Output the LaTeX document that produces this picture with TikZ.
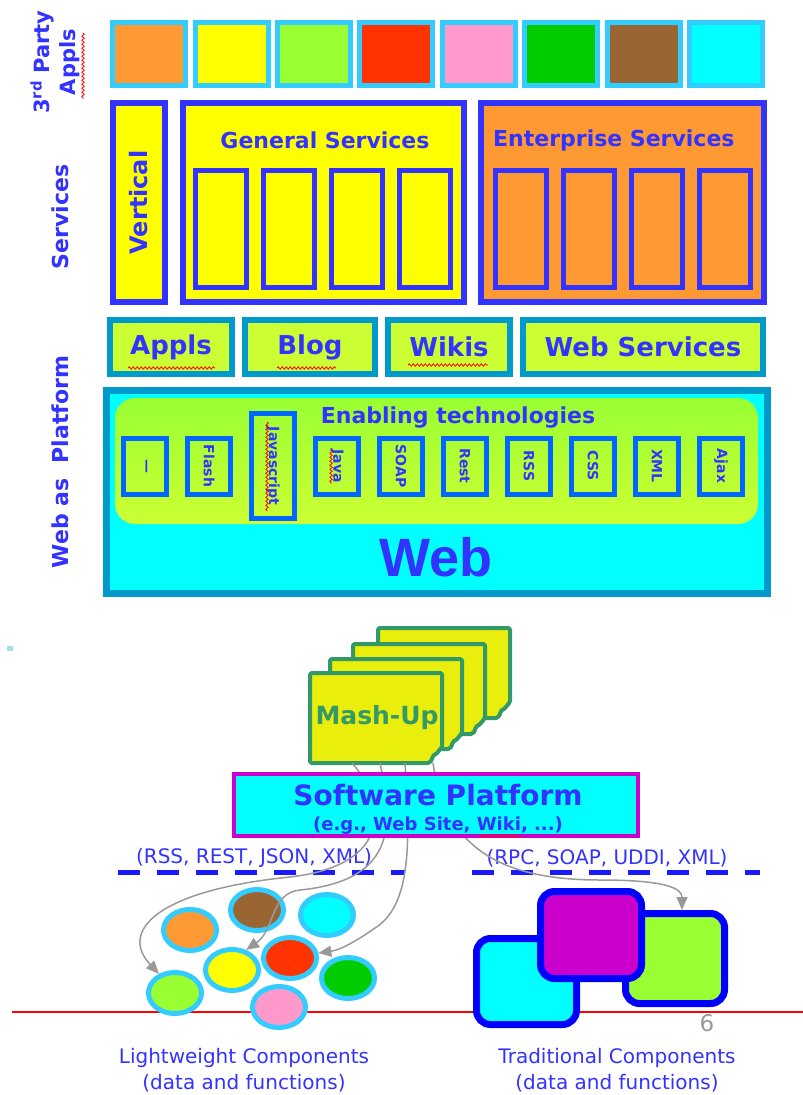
\documentclass[tikz,border=0pt]{standalone}
\usepackage{fontspec}
\setmainfont{DejaVu Sans}
\newfontfamily\webfont{Liberation Sans}
\usepackage{tikz}
\usetikzlibrary{matrix,positioning,shapes.geometric,arrows.meta,decorations.pathmorphing}
\definecolor{txtblue}{HTML}{3333FF}
\definecolor{svcblue}{HTML}{3333FF}
\definecolor{appcyan}{HTML}{33CCFF}
\definecolor{webteal}{HTML}{0099CC}
\definecolor{limefill}{HTML}{CCFF33}
\definecolor{greenfill}{HTML}{99FF33}
\definecolor{techblue}{HTML}{0066FF}
\definecolor{cyanfill}{HTML}{00FFFF}
\definecolor{orangefill}{HTML}{FF9933}
\definecolor{yellowfill}{HTML}{FFFF00}
\definecolor{redfill}{HTML}{FF3300}
\definecolor{pinkfill}{HTML}{FF99CC}
\definecolor{dkgreenfill}{HTML}{00CC00}
\definecolor{brownfill}{HTML}{996633}
\definecolor{mashfill}{HTML}{E9EE0C}
\definecolor{mashgreen}{HTML}{339966}
\definecolor{platmag}{HTML}{CC00CC}
\definecolor{dashblue}{HTML}{1A1AFF}
\definecolor{tradblue}{HTML}{0000FF}
\definecolor{arrowgray}{HTML}{999999}
\definecolor{dotcyan}{HTML}{A8DCE8}
\newcommand{\pxsize}[2]{\fontsize{#1}{#2}\selectfont}
\newcommand{\vtxt}[1]{\rotatebox{-90}{#1}}
\newcommand{\mashcard}[2]{\draw[cardshape, shift={(#1,#2)}] (0,0) -- (132,0) -- (132,75) -- (128,78) .. controls (126,83) and (124,80) .. (122,86) -- (120,90) -- (0,90) -- cycle;}

\begin{document}
\begin{tikzpicture}[x=1pt, y=-1pt,
  sidelbl/.style={text=txtblue, rotate=90, inner sep=0pt},
  appbox/.style={draw=appcyan, line width=5pt, minimum width=73pt, minimum height=63pt, inner sep=0pt, anchor=center},
  svcframe/.style={draw=svcblue, line width=6pt, inner sep=0pt},
  svcslot/.style={draw=svcblue, line width=5pt, minimum width=51pt, minimum height=117pt, inner sep=0pt, anchor=center},
  svctitle/.style={text=txtblue, font=\bfseries\pxsize{22}{22}, inner sep=0pt},
  webbox/.style={draw=webteal, line width=6pt, fill=limefill, minimum height=54pt, inner sep=0pt, text=txtblue, font=\bfseries\pxsize{26}{26}},
  techbox/.style={draw=techblue, line width=5pt, minimum width=43pt, minimum height=56pt, inner sep=0pt, anchor=center, text=txtblue, font=\bfseries\pxsize{14}{14}},
  lwcomp/.style={ellipse, draw=appcyan, line width=5pt, minimum width=53pt, minimum height=41pt, inner sep=0pt},
  tradbox/.style={draw=tradblue, line width=7pt, rounded corners=14pt, inner sep=0pt},
  flowarrow/.style={draw=arrowgray, line width=1.5pt, -{Triangle[length=13pt,width=11pt]}},
  spell/.style={draw=red, line width=0.8pt, decorate, decoration={snake, amplitude=1.2pt, segment length=4pt}},
  cardshape/.style={draw=mashgreen, line width=4pt, fill=mashfill, rounded corners=2pt, line join=round},
  dashrule/.style={draw=dashblue, line width=5pt, dash pattern=on 22pt off 17pt},
  complbl/.style={text=txtblue, align=center, font=\pxsize{20}{26}}]
\useasboundingbox (0,0) rectangle (803,1095);

\node[sidelbl, align=center, font=\bfseries\pxsize{21}{26}] (applbl) at (55,62) {3\textsuperscript{rd} Party\\Appls};
\draw[spell] (83,33) -- (83,99);
\matrix (apps) at (437.5,54) [matrix of nodes, nodes in empty cells, column sep=4.4pt, nodes={appbox}] {
|[fill=orangefill]| & |[fill=yellowfill]| & |[fill=greenfill]| & |[fill=redfill]| & |[fill=pinkfill]| & |[fill=dkgreenfill]| & |[fill=brownfill]| & |[fill=cyanfill]| \\
};

\node[sidelbl, font=\bfseries\pxsize{22}{22}] (svclbl) at (60,217) {Services};
\node[svcframe, fill=yellowfill, minimum width=52pt, minimum height=199pt, text=txtblue, font=\bfseries\pxsize{24}{24}] (vert) at (139,202.5) {\rotatebox{90}{Vertical}};
\node[svcframe, fill=yellowfill, minimum width=281pt, minimum height=199pt] (gensvc) at (323.5,202.5) {};
\node[svcframe, fill=orangefill, minimum width=283pt, minimum height=199pt] (entsvc) at (622.5,202.5) {};
\node[svctitle] (gentitle) at (325,140) {General Services};
\node[svctitle, anchor=west] (enttitle) at (493,140) {Enterprise Services};
\matrix (genslots) at (322.5,229) [matrix of nodes, nodes in empty cells, column sep=12pt, nodes={svcslot, fill=yellowfill}] { & & & \\ };
\matrix (entslots) at (623,229) [matrix of nodes, nodes in empty cells, column sep=12pt, nodes={svcslot, fill=orangefill}] { & & & \\ };

\node[sidelbl, font=\bfseries\pxsize{22}{22}] (weblbl) at (60,462) {Web as\ \ Platform};
\node[webbox, minimum width=122pt] (appls) at (171,347) {Appls};
\node[webbox, minimum width=130pt, right=7pt of appls] (blog) {Blog};
\node[webbox, minimum width=122pt, right=7pt of blog] (wikis) {Wikis};
\node[webbox, minimum width=240pt, right=7pt of wikis] (websvc) {Web Services};
\draw[spell] (128,368) -- (215,368);
\draw[spell] (277,368) -- (336,368);
\draw[spell] (408,365) -- (488,365);

\node[draw=webteal, line width=7pt, fill=cyanfill, minimum width=661pt, minimum height=203pt, inner sep=0pt] (web) at (437,492) {};
\node[top color=greenfill, bottom color=limefill, rounded corners=20pt, minimum width=643pt, minimum height=126pt, inner sep=0pt] (enabling) at (436.5,461) {};
\node[text=txtblue, font=\bfseries\pxsize{22}{22}] (enabtitle) at (458,418) {Enabling technologies};
\matrix (tech) at (433,466) [matrix of nodes, column sep=16pt, nodes={techbox}] {
\vtxt{---} & \vtxt{Flash} & |[minimum height=105pt]| \vtxt{Javascript} & \vtxt{Java} & \vtxt{SOAP} & \vtxt{Rest} & \vtxt{RSS} & \vtxt{CSS} & \vtxt{XML} & \vtxt{Ajax} \\
};
\draw[spell] (267,422) -- (267,511);
\draw[spell] (331,450) -- (331,484);
\node[text=txtblue, font=\webfont\bfseries\pxsize{54}{54}] (webtxt) at (436,557) {Web};

\fill[dotcyan] (7,646) rectangle (13,651);
\draw[red, line width=1.5pt] (12,1012) -- (803,1012);

\node[lwcomp, fill=orangefill] (corange) at (190,930) {};
\node[lwcomp, fill=brownfill] (cbrown) at (257,910) {};
\node[lwcomp, fill=cyanfill] (ccyan) at (327,915) {};
\node[lwcomp, fill=yellowfill] (cyellow) at (232,970) {};
\node[lwcomp, fill=redfill] (cred) at (290,958) {};
\node[lwcomp, fill=dkgreenfill] (cgreen) at (348,978) {};
\node[lwcomp, fill=greenfill] (clime) at (175,993) {};
\node[lwcomp, fill=pinkfill] (cpink) at (279,1007) {};

\node[tradbox, fill=cyanfill, minimum width=100pt, minimum height=86pt] (tcyan) at (526.5,981.5) {};
\node[tradbox, fill=greenfill, minimum width=99pt, minimum height=90pt] (tgreen) at (675,958.5) {};
\node[tradbox, fill=platmag, minimum width=101pt, minimum height=87pt] (tmag) at (591,935) {};

\node[complbl] (lwlbl) at (244,1070) {Lightweight Components\\(data and functions)};
\node[complbl] (tradlbl) at (617,1070) {Traditional Components\\(data and functions)};
\node[text=arrowgray, font=\pxsize{23}{23}] (pagenum) at (707,1023) {6};

\draw[dashrule] (118,872) -- (405,872);
\draw[dashrule] (472,872) -- (760,872);
\node[text=txtblue, font=\pxsize{20}{20}] (rsslbl) at (254,858) {(RSS, REST, JSON, XML)};
\node[text=txtblue, font=\pxsize{20}{20}] (rpclbl) at (607,858) {(RPC, SOAP, UDDI, XML)};

\mashcard{378}{628}
\mashcard{353}{644}
\mashcard{330}{659}
\mashcard{310}{673}
\node[text=mashgreen, font=\bfseries\pxsize{25}{25}] (mash) at (377,718) {Mash-Up};
\coordinate (mash-a) at (352,763);
\coordinate (mash-b) at (380,763);
\coordinate (mash-c) at (405,763);
\coordinate (mash-d) at (433,763);

\draw[flowarrow] (mash-a) .. controls (385,800) and (395,865) .. (290,877) .. controls (160,890) and (118,930) .. (clime.130);
\draw[flowarrow] (mash-b) .. controls (392,820) and (400,880) .. (300,890) .. controls (270,893) and (275,930) .. (cyellow.55);
\draw[flowarrow] (mash-c) .. controls (410,840) and (412,905) .. (375,928) .. controls (355,942) and (340,950) .. (cred.10);
\draw[flowarrow] (mash-d) .. controls (445,840) and (490,880) .. (600,880) .. controls (665,880) and (682,888) .. ([xshift=7pt]tgreen.north);

\node[draw=platmag, line width=4pt, fill=cyanfill, minimum width=404pt, minimum height=62pt, inner sep=0pt] (platform) at (436,805) {};
\node[text=txtblue, font=\bfseries\pxsize{28}{28}] (platname) at (438,795) {Software Platform};
\node[text=txtblue, font=\bfseries\pxsize{18}{18}] (platex) at (438,826) {(e.g., Web Site, Wiki, ...)};
\draw[spell] (480,836) -- (521,836);
\end{tikzpicture}
\end{document}
